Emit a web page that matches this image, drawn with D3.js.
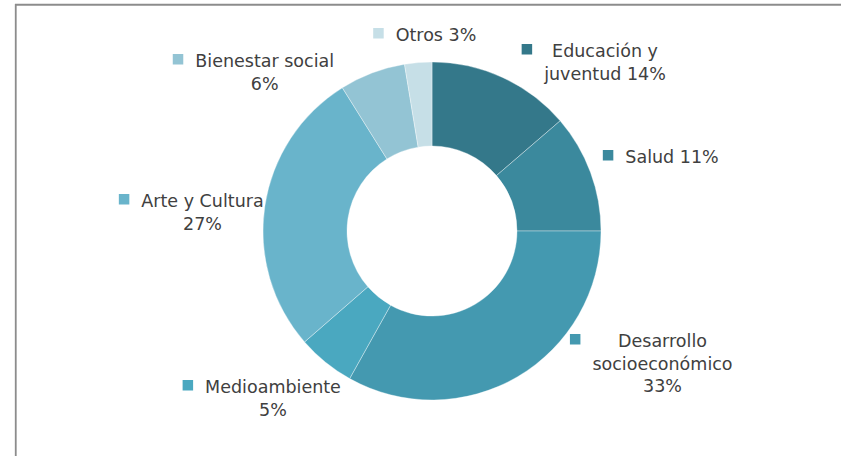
<!DOCTYPE html>
<html>
<head>
<meta charset="utf-8">
<script src="https://cdn.jsdelivr.net/npm/d3@7"></script>
<style>
  html, body { margin: 0; padding: 0; background: #ffffff; }
  svg { display: block; }
</style>
</head>
<body>
<svg id="chart" width="841" height="456"></svg>
<script>
// Data (clockwise from 12 o'clock)
const categories = ["Educación y juventud", "Salud", "Desarrollo socioeconómico", "Medioambiente", "Arte y Cultura", "Bienestar social", "Otros"];
const shares = [13.7, 11.3, 33.1, 5.5, 27.5, 6.3, 2.6];
const labelLines = [
  ["Educación y", "juventud 14%"],
  ["Salud 11%"],
  ["Desarrollo", "socioeconómico", "33%"],
  ["Medioambiente", "5%"],
  ["Arte y Cultura", "27%"],
  ["Bienestar social", "6%"],
  ["Otros 3%"]
];
const colors = ["#34788a", "#3b899d", "#4499b0", "#4aa8c0", "#69b4cb", "#93c4d4", "#c6dfe7"];
// label anchor positions (center x, first baseline y)
const labelPos = [[605, 57], [672, 163], [662.5, 347], [273, 393], [202.5, 207], [264.7, 67], [436, 41]];

const svg = d3.select("#chart");
const W = 841, H = 456;

// frame
svg.append("line").attr("x1", 15.75).attr("x2", 15.75).attr("y1", 4).attr("y2", H)
  .attr("stroke", "#8c8c8c").attr("stroke-width", 1.8);
svg.append("line").attr("x1", 15).attr("x2", W).attr("y1", 4.75).attr("y2", 4.75)
  .attr("stroke", "#8c8c8c").attr("stroke-width", 1.8);

const cx = 432, cy = 231, rOuter = 169, rInner = 85;

const pie = d3.pie().sort(null).value(d => d).startAngle(0).endAngle(2 * Math.PI);
const arc = d3.arc().innerRadius(rInner).outerRadius(rOuter);
const color = d3.scaleOrdinal().domain(categories).range(colors);

const g = svg.append("g").attr("transform", `translate(${cx},${cy})`);
g.selectAll("path")
  .data(pie(shares))
  .join("path")
  .attr("d", arc)
  .attr("fill", (d, i) => color(categories[i]))
  .attr("stroke", "#ffffff")
  .attr("stroke-opacity", 0.45)
  .attr("stroke-width", 0.8);

// labels
const fontSize = 17.5, lineH = 22.5, sq = 10.5;
const labels = svg.append("g")
  .attr("font-family", "'DejaVu Sans', Verdana, sans-serif")
  .attr("font-size", fontSize)
  .attr("fill", "#404040");

categories.forEach((c, i) => {
  const [lx, ly] = labelPos[i];
  const lg = labels.append("g");
  const texts = lg.selectAll("text")
    .data(labelLines[i])
    .join("text")
    .attr("x", lx)
    .attr("y", (d, j) => ly + j * lineH)
    .attr("text-anchor", "middle")
    .text(d => d);
  let maxW = 0;
  texts.each(function () { maxW = Math.max(maxW, this.getComputedTextLength()); });
  const left = lx - maxW / 2;
  lg.append("rect")
    .attr("x", left - 12 - sq)
    .attr("y", ly - 13)
    .attr("width", sq)
    .attr("height", sq)
    .attr("fill", color(c));
});
</script>
</body>
</html>
